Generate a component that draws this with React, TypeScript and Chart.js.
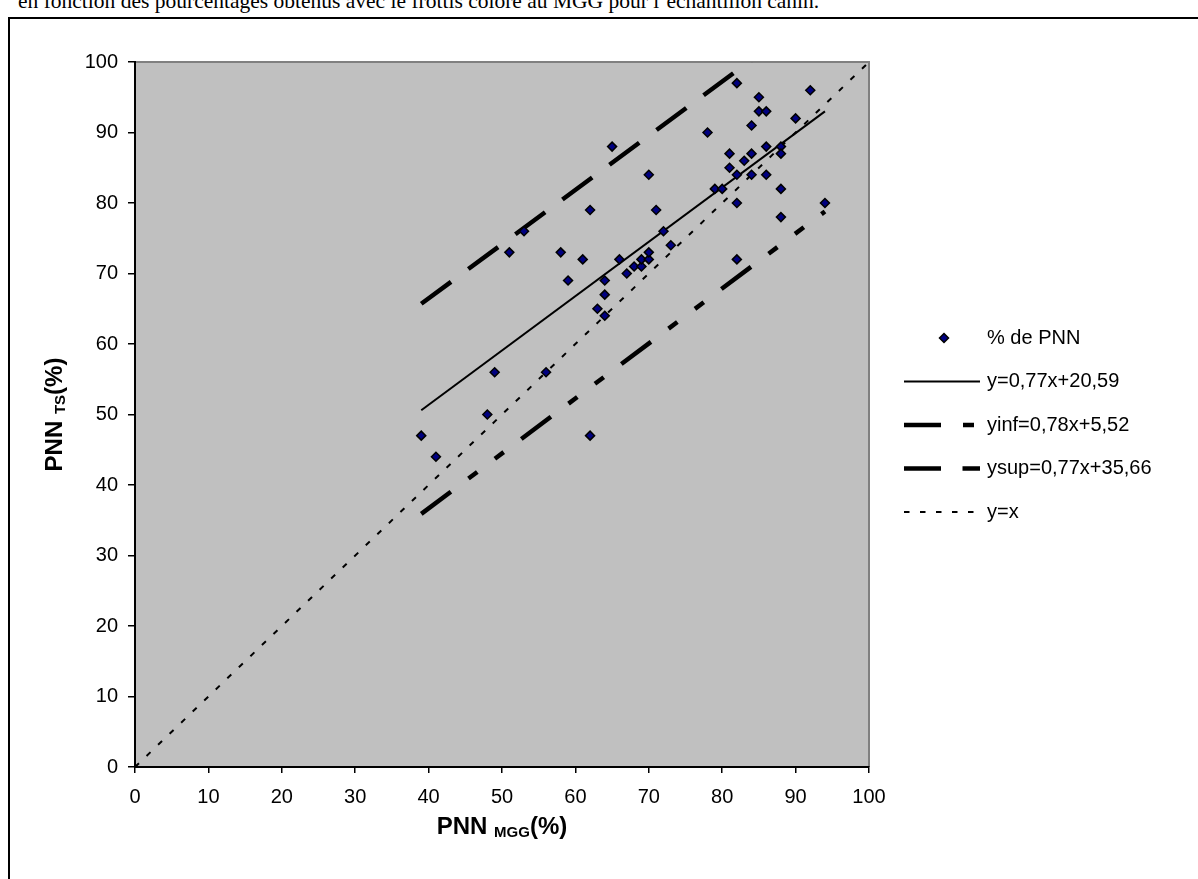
import React, { useEffect, useRef } from 'react';
import { Chart, registerables } from 'chart.js';

Chart.register(...registerables);

// Scatter data: % PNN (MGG) vs % PNN (TS)
const pnnMgg = [39, 41, 48, 49, 51, 53, 56, 58, 59, 61, 62, 62, 63, 64, 64, 64, 65, 66, 67, 68, 69, 69, 70, 70, 70, 71, 72, 73, 78, 79, 80, 81, 81, 82, 82, 82, 82, 83, 84, 84, 84, 85, 85, 86, 86, 86, 88, 88, 88, 88, 90, 92, 94];
const pnnTs = [47, 44, 50, 56, 73, 76, 56, 73, 69, 72, 79, 47, 65, 69, 67, 64, 88, 72, 70, 71, 71, 72, 72, 73, 84, 79, 76, 74, 90, 82, 82, 85, 87, 97, 84, 80, 72, 86, 91, 87, 84, 95, 93, 93, 88, 84, 88, 87, 82, 78, 92, 96, 80];

// Line end points
const lineX = [39, 94];
const fitY = [50.6, 93.0];
const infY = [35.9, 78.8];
const supY = [65.7, 108.0];
const identX = [0, 100];
const identY = [0, 100];

const legendLabels = ['% de PNN', 'y=0,77x+20,59', 'yinf=0,78x+5,52', 'ysup=0,77x+35,66', 'y=x'];
const xTicks = { min: 0, max: 100, step: 10 };
const yTicks = { min: 0, max: 100, step: 10 };

const FONT = '"Liberation Sans", Arial, sans-serif';

const styles = {
  fit: { width: 2, dash: [] as number[] },
  inf: { width: 4.5, dash: [37, 22, 11, 22, 11, 22] },
  sup: { width: 4.5, dash: [37, 21.5] },
  ident: { width: 2, dash: [5.5, 10.5] },
};

function pts(xs: number[], ys: number[]) {
  return xs.map((x, i) => ({ x, y: ys[i] }));
}

function drawDiamond(ctx: CanvasRenderingContext2D, x: number, y: number, r: number) {
  ctx.beginPath();
  ctx.moveTo(x, y - r);
  ctx.lineTo(x + r, y);
  ctx.lineTo(x, y + r);
  ctx.lineTo(x - r, y);
  ctx.closePath();
  ctx.fillStyle = '#000080';
  ctx.fill();
  ctx.lineWidth = 1.5;
  ctx.strokeStyle = '#000';
  ctx.stroke();
}

const plotBg = {
  id: 'plotBg',
  beforeDraw(chart: any) {
    const { ctx, chartArea: a } = chart;
    ctx.save();
    ctx.fillStyle = '#C0C0C0';
    ctx.fillRect(a.left, a.top, a.right - a.left, a.bottom - a.top);
    ctx.strokeStyle = '#808080';
    ctx.lineWidth = 2;
    ctx.beginPath();
    ctx.moveTo(a.left, a.top);
    ctx.lineTo(a.right, a.top);
    ctx.lineTo(a.right, a.bottom);
    ctx.stroke();
    ctx.restore();
  },
};

const customLegend = {
  id: 'customLegend',
  afterDraw(chart: any) {
    const ctx: CanvasRenderingContext2D = chart.ctx;
    const x0 = 904, x1 = 980, tx = 987;
    const ys = [338, 381.5, 425, 468.5, 512];
    const lineStyles = [null, styles.fit, styles.inf, styles.sup, styles.ident];
    ctx.save();
    ys.forEach((y, i) => {
      const s = lineStyles[i];
      if (!s) {
        drawDiamond(ctx, (x0 + x1) / 2 + 2, y, 4.5);
      } else {
        ctx.beginPath();
        ctx.setLineDash(s.dash);
        ctx.lineCap = 'butt';
        ctx.lineWidth = s.width;
        ctx.strokeStyle = '#000';
        ctx.moveTo(x0, y);
        ctx.lineTo(x1, y);
        ctx.stroke();
        ctx.setLineDash([]);
      }
      ctx.fillStyle = '#000';
      ctx.font = `20px ${FONT}`;
      ctx.textBaseline = 'middle';
      ctx.textAlign = 'left';
      ctx.fillText(legendLabels[i], tx, y);
    });
    ctx.restore();
  },
};

function drawSubTitle(ctx: CanvasRenderingContext2D, main: string, sub: string, tail: string) {
  const big = `bold 24px ${FONT}`;
  const small = `bold 15px ${FONT}`;
  ctx.font = big;
  const w1 = ctx.measureText(main).width;
  const w3 = ctx.measureText(tail).width;
  ctx.font = small;
  const w2 = ctx.measureText(sub).width;
  const total = w1 + w2 + w3;
  let x = -total / 2;
  ctx.fillStyle = '#000';
  ctx.textAlign = 'left';
  ctx.textBaseline = 'alphabetic';
  ctx.font = big;
  ctx.fillText(main, x, 0);
  x += w1;
  ctx.font = small;
  ctx.fillText(sub, x, 3);
  x += w2;
  ctx.font = big;
  ctx.fillText(tail, x, 0);
}

const axisTitles = {
  id: 'axisTitles',
  afterDraw(chart: any) {
    const { ctx, chartArea: a } = chart;
    ctx.save();
    ctx.translate((a.left + a.right) / 2, 834);
    drawSubTitle(ctx, 'PNN ', 'MGG', '(%)');
    ctx.restore();
    ctx.save();
    ctx.translate(62, (a.top + a.bottom) / 2);
    ctx.rotate(-Math.PI / 2);
    drawSubTitle(ctx, 'PNN ', 'TS', '(%)');
    ctx.restore();
  },
};

export default function App() {
  const ref = useRef<HTMLCanvasElement>(null);

  useEffect(() => {
    if (!ref.current) return;
    const lineDs = (data: any[], s: { width: number; dash: number[] }) => ({
      data,
      showLine: true,
      borderColor: '#000',
      borderWidth: s.width,
      borderDash: s.dash,
      borderCapStyle: 'butt',
      pointRadius: 0,
      pointHoverRadius: 0,
      fill: false,
      tension: 0,
    });
    const tickFont = { family: FONT, size: 20 };
    const chart = new Chart(ref.current, {
      type: 'scatter',
      data: {
        datasets: [
          {
            label: legendLabels[0],
            data: pts(pnnMgg, pnnTs),
            pointStyle: 'rectRot',
            pointRadius: 4.5,
            pointHoverRadius: 4.5,
            backgroundColor: '#000080',
            borderColor: '#000',
            borderWidth: 1.5,
            showLine: false,
          },
          { label: legendLabels[1], ...lineDs(pts(lineX, fitY), styles.fit) },
          { label: legendLabels[2], ...lineDs(pts(lineX, infY), styles.inf) },
          { label: legendLabels[3], ...lineDs(pts(lineX, supY), styles.sup) },
          { label: legendLabels[4], ...lineDs(pts(identX, identY), styles.ident) },
        ] as any,
      },
      options: {
        responsive: false,
        animation: false,
        devicePixelRatio: 1,
        layout: { padding: { left: 0, top: 62, right: 1198 - 869, bottom: 0 } },
        plugins: { legend: { display: false }, tooltip: { enabled: false } },
        events: [],
        scales: {
          x: {
            type: 'linear',
            min: xTicks.min,
            max: xTicks.max,
            ticks: { stepSize: xTicks.step, color: '#000', font: tickFont, padding: 12, maxRotation: 0 },
            grid: { drawOnChartArea: false, drawTicks: true, tickLength: 6, color: '#000', tickColor: '#000', lineWidth: 1.5 },
            border: { display: true, color: '#000', width: 2 },
            afterFit: (s: any) => { s.height = 879 - 767; },
          },
          y: {
            type: 'linear',
            min: yTicks.min,
            max: yTicks.max,
            ticks: { stepSize: yTicks.step, color: '#000', font: tickFont, padding: 10 },
            grid: { drawOnChartArea: false, drawTicks: true, tickLength: 7, color: '#000', tickColor: '#000', lineWidth: 1.5 },
            border: { display: true, color: '#000', width: 2 },
            afterFit: (s: any) => { s.width = 135; },
          },
        },
      } as any,
      plugins: [plotBg, customLegend, axisTitles],
    });
    return () => chart.destroy();
  }, []);

  return (
    <div style={{ position: 'fixed', left: 0, top: 0, width: 1198, height: 879, overflow: 'hidden', background: '#fff' }}>
      <div
        style={{
          position: 'absolute',
          left: 18,
          top: -11,
          fontFamily: '"Liberation Serif", "Times New Roman", serif',
          fontSize: 21.5,
          whiteSpace: 'nowrap',
          color: '#000',
        }}
      >
        en fonction des pourcentages obtenus avec le frottis coloré au MGG pour l’échantillon canin.
      </div>
      <div
        style={{
          position: 'absolute',
          left: 8,
          top: 17,
          width: 1400,
          height: 1200,
          borderLeft: '2px solid #000',
          borderTop: '2px solid #000',
        }}
      />
      <canvas ref={ref} width={1198} height={879} style={{ position: 'absolute', left: 0, top: 0 }} />
    </div>
  );
}
